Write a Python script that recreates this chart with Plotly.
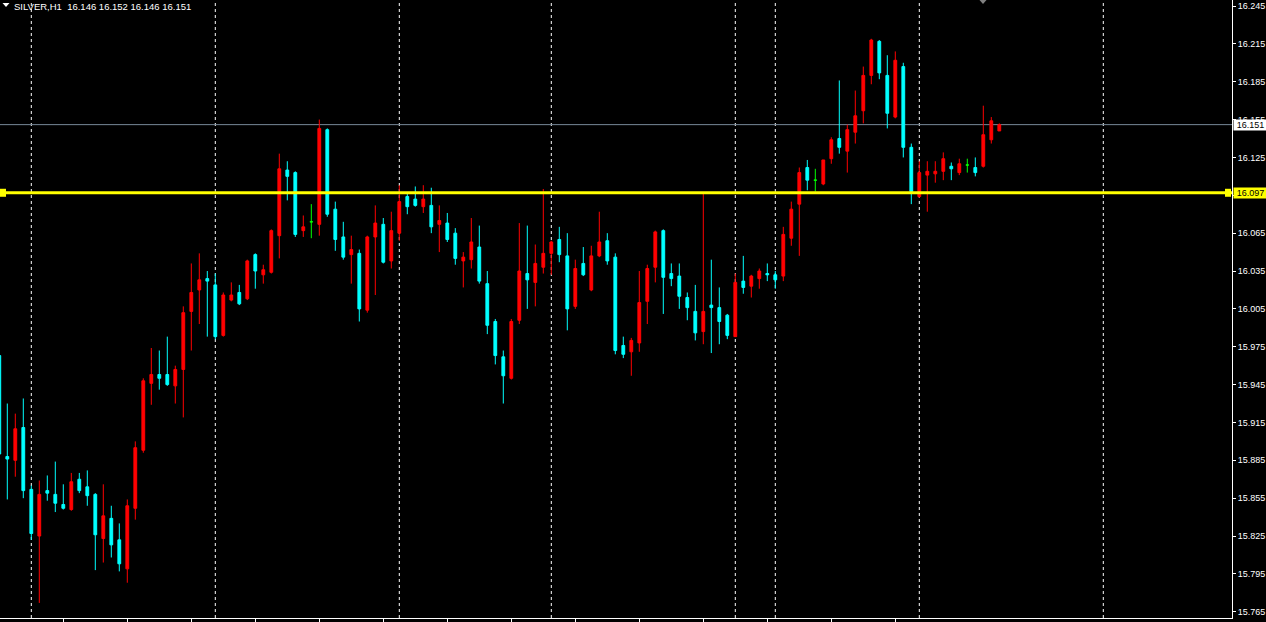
import plotly.graph_objects as go

symbol = "SILVER,H1"

open_ = [15.968, 15.888, 15.885, 15.911, 15.862, 15.825, 15.861, 15.858, 15.850, 15.846,
         15.870, 15.864, 15.858, 15.823, 15.839, 15.822, 15.799, 15.847, 15.893, 15.946,
         15.953, 15.953, 15.944, 15.957, 16.003, 16.020, 16.029, 16.024, 15.984, 16.012,
         16.018, 16.013, 16.048, 16.032, 16.034, 16.063, 16.115, 16.113, 16.067, 16.074,
         16.072, 16.147, 16.084, 16.062, 16.048, 16.049, 16.004, 16.062, 16.072, 16.043,
         16.065, 16.094, 16.092, 16.086, 16.087, 16.072, 16.073, 16.065, 16.043, 16.044,
         16.054, 16.025, 15.995, 15.967, 15.950, 15.996, 16.033, 16.026, 16.038, 16.049,
         16.060, 16.047, 16.007, 16.041, 16.020, 16.047, 16.059, 16.046, 15.976, 15.971,
         15.978, 16.011, 16.038, 16.067, 16.033, 16.031, 16.014, 16.003, 15.987, 16.008,
         16.006, 16.000, 15.983, 16.027, 16.023, 16.029, 16.033, 16.032, 16.031, 16.061,
         16.088, 16.117, 16.107, 16.104, 16.124, 16.140, 16.130, 16.145, 16.162, 16.190,
         16.217, 16.190, 16.157, 16.197, 16.133, 16.094, 16.111, 16.112, 16.114, 16.118,
         16.113, 16.119, 16.117, 16.118, 16.139, 16.146]
high = [15.970, 15.930, 15.922, 15.934, 15.865, 15.869, 15.873, 15.884, 15.866, 15.875,
        15.875, 15.877, 15.859, 15.866, 15.849, 15.835, 15.854, 15.900, 15.950, 15.974,
        15.972, 15.983, 15.960, 16.007, 16.041, 16.049, 16.035, 16.033, 16.018, 16.026,
        16.024, 16.044, 16.049, 16.040, 16.068, 16.128, 16.122, 16.114, 16.079, 16.088,
        16.155, 16.148, 16.090, 16.074, 16.063, 16.052, 16.063, 16.087, 16.077, 16.082,
        16.103, 16.096, 16.102, 16.103, 16.101, 16.087, 16.081, 16.069, 16.050, 16.077,
        16.071, 16.035, 15.997, 15.972, 15.997, 16.073, 16.071, 16.056, 16.100, 16.059,
        16.070, 16.065, 16.044, 16.054, 16.055, 16.082, 16.065, 16.049, 15.983, 15.982,
        16.035, 16.040, 16.067, 16.068, 16.041, 16.041, 16.018, 16.024, 16.097, 16.044,
        16.022, 16.001, 16.033, 16.047, 16.032, 16.037, 16.041, 16.035, 16.070, 16.090,
        16.117, 16.123, 16.116, 16.123, 16.141, 16.186, 16.151, 16.178, 16.197, 16.219,
        16.218, 16.206, 16.209, 16.200, 16.136, 16.122, 16.122, 16.122, 16.129, 16.121,
        16.124, 16.124, 16.125, 16.166, 16.157, 16.152]
low = [15.889, 15.854, 15.872, 15.855, 15.822, 15.772, 15.853, 15.844, 15.846, 15.845,
       15.859, 15.849, 15.798, 15.804, 15.808, 15.797, 15.788, 15.838, 15.891, 15.929,
       15.941, 15.944, 15.930, 15.919, 15.972, 15.993, 15.983, 15.981, 15.983, 16.011,
       16.008, 16.012, 16.021, 16.025, 16.033, 16.045, 16.091, 16.062, 16.062, 16.061,
       16.063, 16.078, 16.051, 16.044, 16.025, 15.995, 16.002, 16.016, 16.041, 16.037,
       16.059, 16.080, 16.086, 16.081, 16.065, 16.050, 16.058, 16.040, 16.022, 16.037,
       16.025, 15.985, 15.961, 15.930, 15.949, 15.993, 16.005, 16.007, 16.033, 16.032,
       16.042, 15.988, 16.005, 16.031, 16.019, 16.046, 16.040, 15.969, 15.966, 15.952,
       15.971, 15.993, 16.026, 16.001, 16.023, 16.005, 15.996, 15.980, 15.977, 15.970,
       15.977, 15.981, 15.983, 16.017, 16.014, 16.021, 16.027, 16.021, 16.027, 16.055,
       16.047, 16.099, 16.098, 16.103, 16.120, 16.128, 16.113, 16.136, 16.152, 16.183,
       16.187, 16.148, 16.156, 16.125, 16.088, 16.093, 16.082, 16.105, 16.107, 16.107,
       16.111, 16.113, 16.110, 16.117, 16.136, 16.146]
close = [15.890, 15.886, 15.910, 15.861, 15.827, 15.858, 15.859, 15.851, 15.847, 15.868,
         15.861, 15.857, 15.826, 15.841, 15.818, 15.803, 15.849, 15.895, 15.948, 15.953,
         15.950, 15.945, 15.957, 16.002, 16.018, 16.028, 16.027, 15.983, 16.016, 16.016,
         16.009, 16.043, 16.035, 16.036, 16.067, 16.116, 16.110, 16.064, 16.070, 16.074,
         16.148, 16.080, 16.060, 16.046, 16.052, 16.005, 16.062, 16.073, 16.042, 16.067,
         16.090, 16.086, 16.087, 16.092, 16.070, 16.075, 16.060, 16.045, 16.046, 16.058,
         16.027, 15.992, 15.968, 15.952, 15.995, 16.035, 16.028, 16.041, 16.049, 16.058,
         16.048, 16.005, 16.037, 16.032, 16.047, 16.058, 16.043, 15.972, 15.969, 15.980,
         16.010, 16.037, 16.066, 16.030, 16.029, 16.015, 16.006, 15.986, 16.003, 16.006,
         15.995, 15.984, 16.026, 16.022, 16.031, 16.035, 16.032, 16.028, 16.064, 16.084,
         16.113, 16.107, 16.107, 16.123, 16.139, 16.133, 16.147, 16.158, 16.190, 16.218,
         16.192, 16.160, 16.202, 16.133, 16.098, 16.113, 16.114, 16.114, 16.124, 16.116,
         16.120, 16.119, 16.113, 16.143, 16.154, 16.151]

bars = list(range(len(close)))
separator_bars = [4, 27, 50, 69, 92, 97, 115, 138]
time_tick_bars = [8, 16, 24, 32, 40, 48, 56, 64, 72, 80, 88, 96, 104, 112]
y_tick_labels = ["15.765", "15.795", "15.825", "15.855", "15.885", "15.915",
                 "15.945", "15.975", "16.005", "16.035", "16.065", "16.095",
                 "16.125", "16.155", "16.185", "16.215", "16.245"]
level_price = 16.097
bid_price = 16.151

BULL = "#ff0000"
BEAR = "#00ffff"
DOJI = "#00ff00"

up = [i for i in bars if close[i] > open_[i]]
dn = [i for i in bars if close[i] < open_[i]]
dj = [i for i in bars if close[i] == open_[i]]


def candle_trace(idx, color):
    style = dict(line=dict(color=color, width=1), fillcolor=color)
    return go.Candlestick(
        x=[bars[i] for i in idx],
        open=[open_[i] for i in idx],
        high=[high[i] for i in idx],
        low=[low[i] for i in idx],
        close=[close[i] for i in idx],
        increasing=style, decreasing=style,
        whiskerwidth=0, hoverinfo="skip", showlegend=False,
    )


fig = go.Figure([candle_trace(up, BULL), candle_trace(dn, BEAR), candle_trace(dj, DOJI)])

W, H = 1266, 622
ML, MR, MT, MB = 0, 34, 0, 4
PW = W - ML - MR
PH = H - MT - MB
bar_px = 8.0
x0 = 0.7 / bar_px
x1 = x0 + PW / bar_px
px_per_unit = 1262.0
y_top = float(y_tick_labels[-1]) + 6 / px_per_unit
y_bot = y_top - PH / px_per_unit

shapes = []
for b in separator_bars:
    shapes.append(dict(type="line", xref="x", yref="paper", x0=b, x1=b, y0=0, y1=1,
                       line=dict(color="white", width=1, dash="3px,3px"), layer="below"))
shapes.append(dict(type="line", xref="paper", yref="y", x0=0, x1=1, y0=bid_price, y1=bid_price,
                   line=dict(color="#778899", width=1), layer="below"))
shapes.append(dict(type="line", xref="paper", yref="y", x0=0, x1=1, y0=level_price, y1=level_price,
                   line=dict(color="#ffff00", width=3), layer="above"))
half = 4 / px_per_unit
for a, b in [(0, 6), (PW - 7, PW - 1)]:
    shapes.append(dict(type="rect", xref="paper", yref="y", x0=a / PW, x1=b / PW,
                       y0=level_price - half, y1=level_price + half,
                       fillcolor="#ffff00", line=dict(width=0), layer="above"))


def tri(cx, top, w, h):
    return (f"M {(cx - w / 2) / PW},{1 - top / PH} L {(cx + w / 2) / PW},{1 - top / PH} "
            f"L {cx / PW},{1 - (top + h) / PH} Z")


shapes.append(dict(type="path", xref="paper", yref="paper", path=tri(6, 3, 7, 4),
                   fillcolor="white", line=dict(width=0)))
shapes.append(dict(type="path", xref="paper", yref="paper", path=tri(983, 0, 7, 4),
                   fillcolor="#808080", line=dict(width=0)))

title_text = f"{symbol}  {open_[-1]:.3f} {high[-1]:.3f} {low[-1]:.3f} {close[-1]:.3f}"
annotations = [
    dict(xref="paper", yref="paper", x=0, y=1, xanchor="left", yanchor="top",
         xshift=12, yshift=1, text=title_text, showarrow=False,
         font=dict(family="Liberation Sans", size=9.5, color="white")),
    dict(xref="paper", yref="y", x=1, y=bid_price, xanchor="left", yanchor="middle",
         xshift=1, text=f"{bid_price:.3f}", showarrow=False, bgcolor="white", borderpad=0,
         width=33, align="center", font=dict(family="Liberation Sans", size=9, color="black")),
    dict(xref="paper", yref="y", x=1, y=level_price, xanchor="left", yanchor="middle",
         xshift=1, text=f"{level_price:.3f}", showarrow=False, bgcolor="#ffff00", borderpad=0,
         width=33, align="center", font=dict(family="Liberation Sans", size=9, color="black")),
]

fig.update_layout(
    width=W, height=H, margin=dict(l=ML, r=MR, t=MT, b=MB),
    paper_bgcolor="black", plot_bgcolor="black",
    boxgap=0.5, showlegend=False,
    shapes=shapes, annotations=annotations,
    xaxis=dict(range=[x0, x1], showgrid=False, zeroline=False, showline=True,
               linecolor="white", linewidth=1, ticks="outside", ticklen=3, tickcolor="white",
               tickvals=time_tick_bars, showticklabels=False,
               rangeslider=dict(visible=False), fixedrange=True),
    yaxis=dict(range=[y_bot, y_top], side="right", showgrid=False, zeroline=False,
               showline=True, linecolor="white", linewidth=1, ticks="outside", ticklen=3,
               tickcolor="white", tickvals=[float(t) for t in y_tick_labels],
               ticktext=y_tick_labels, fixedrange=True,
               tickfont=dict(family="Liberation Sans", size=9, color="white")),
)

fig.write_html("out.html", config={"displayModeBar": False},
               post_script="document.body.style.margin='0';document.body.style.background='black';")
